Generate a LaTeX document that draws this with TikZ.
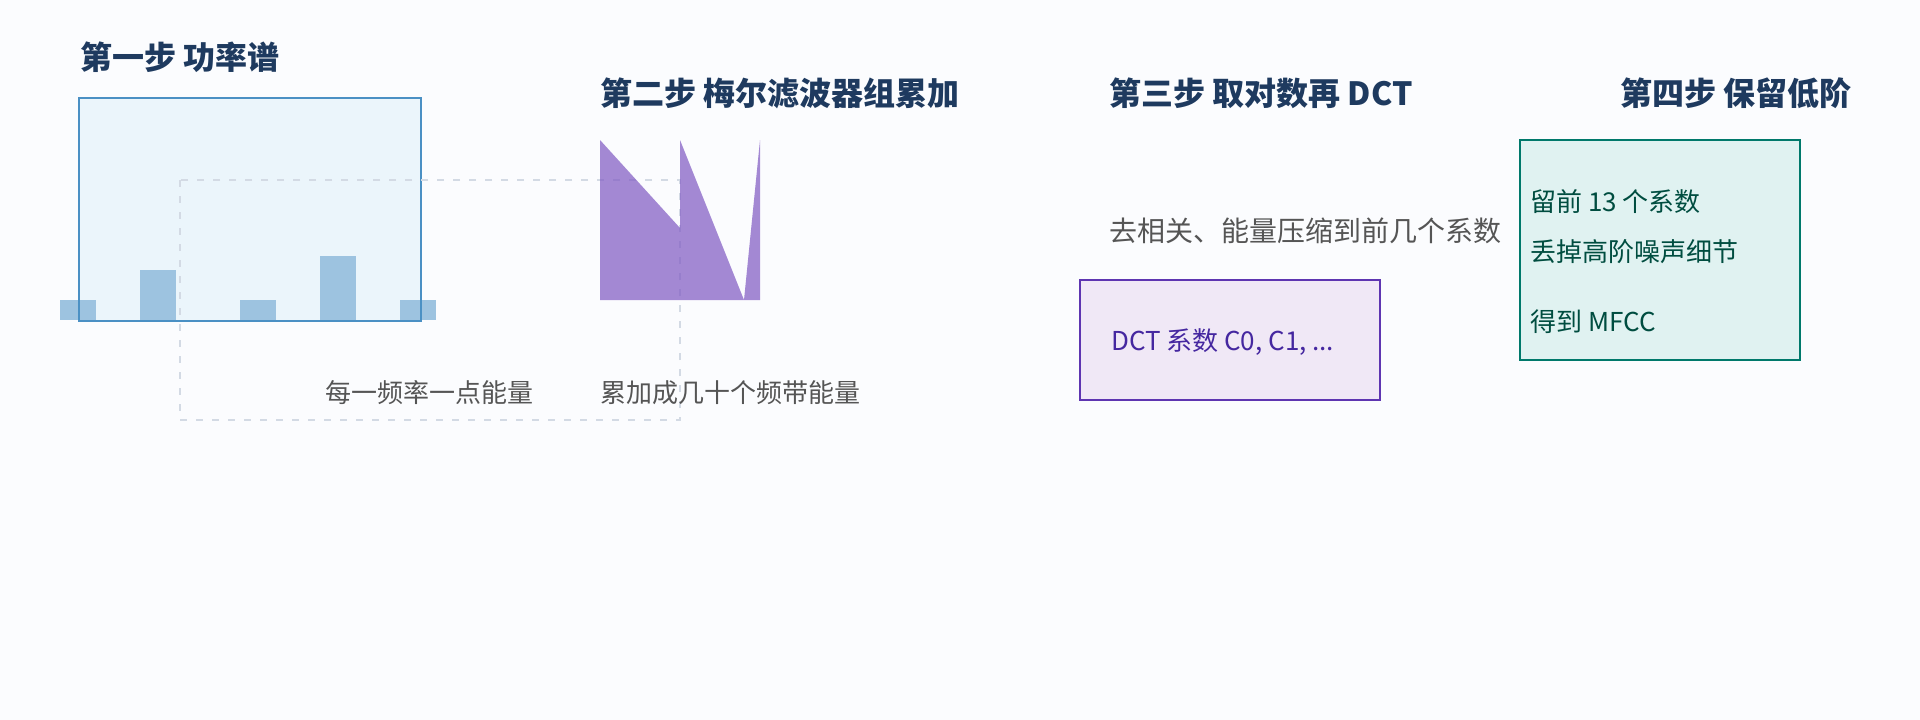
\documentclass[tikz,border=0pt]{standalone}
\usepackage{fontspec}
\setmainfont{Noto Sans CJK SC}
\definecolor{bgc}{HTML}{FBFCFE}
\definecolor{titlec}{HTML}{1E3A5F}
\definecolor{grayc}{HTML}{555555}
\definecolor{specfill}{HTML}{EBF5FB}
\definecolor{specline}{HTML}{4A90C4}
\definecolor{barc}{HTML}{9DC3E0}
\definecolor{dashc}{HTML}{D3DAE4}
\definecolor{melc}{HTML}{7E57C2}
\definecolor{dctfill}{HTML}{F0E8F6}
\definecolor{dctline}{HTML}{5E35B1}
\definecolor{dcttext}{HTML}{4527A0}
\definecolor{keepfill}{HTML}{E0F2F1}
\definecolor{keepline}{HTML}{00796B}
\definecolor{keeptext}{HTML}{004D40}
\begin{document}
\begin{tikzpicture}[x=1pt,y=-1pt,
  steptitle/.style={anchor=base west,inner sep=0pt,font=\fontsize{32}{38}\selectfont\bfseries,text=titlec},
  note/.style={anchor=base west,inner sep=0pt,font=\fontsize{26}{31}\selectfont,text=grayc},
  panel/.style={rectangle,inner sep=0pt,line width=2pt},
  bar/.style={fill=barc},
  guide/.style={draw=dashc,line width=2pt,dash pattern=on 7pt off 9pt}]
\fill[bgc] (0,0) rectangle (1920,720);
\useasboundingbox (0,0) rectangle (1920,720);

% step 1: power spectrum
\node[panel,fill=specfill,minimum width=340pt,minimum height=221pt] (spec) at (250,209.5) {};
\fill[bar] (60,300) rectangle (96,320);
\fill[bar] (140,270) rectangle (176,320);
\fill[bar] (240,300) rectangle (276,320);
\fill[bar] (320,256) rectangle (356,320);
\fill[bar] (400,300) rectangle (436,320);
\draw[specline,line width=2pt] (spec.south west) rectangle (spec.north east);

% dashed guide
\draw[guide] (180,180) rectangle (680,420);

% step 2: mel filter bank
\fill[melc,opacity=0.7] (600,140) -- (680,228) -- (680,140) -- (744,300) -- (760,140) -- (760,300) -- (600,300) -- cycle;

% step 3: DCT box
\node[panel,draw=dctline,fill=dctfill,minimum width=300pt,minimum height=120pt] (dct) at (1230,340) {};
% step 4: keep box
\node[panel,draw=keepline,fill=keepfill,minimum width=280pt,minimum height=220pt] (keep) at (1660,250) {};

% titles
\node[steptitle] (t1) at (80,69) {第一步 功率谱};
\node[steptitle] (t2) at (600,105) {第二步 梅尔滤波器组累加};
\node[steptitle] (t3) at (1109,105) {第三步 取对数再 DCT};
\node[steptitle] (t4) at (1620,105) {第四步 保留低阶};

% notes
\node[note] (n1) at (325,402) {每一频率一点能量};
\node[note] (n2) at (600,402) {累加成几十个频带能量};
\node[note,font=\fontsize{28}{33}\selectfont] (n3) at (1109,241.5) {去相关、能量压缩到前几个系数};
\node[note,text=dcttext] (n4) at (1111,350) {DCT 系数 C0, C1, ...};
\node[note,text=keeptext] (k1) at (1530,211.5) {留前 13 个系数};
\node[note,text=keeptext] (k2) at (1530,261.5) {丢掉高阶噪声细节};
\node[note,text=keeptext] (k3) at (1530,331.5) {得到 MFCC};
\end{tikzpicture}
\end{document}
